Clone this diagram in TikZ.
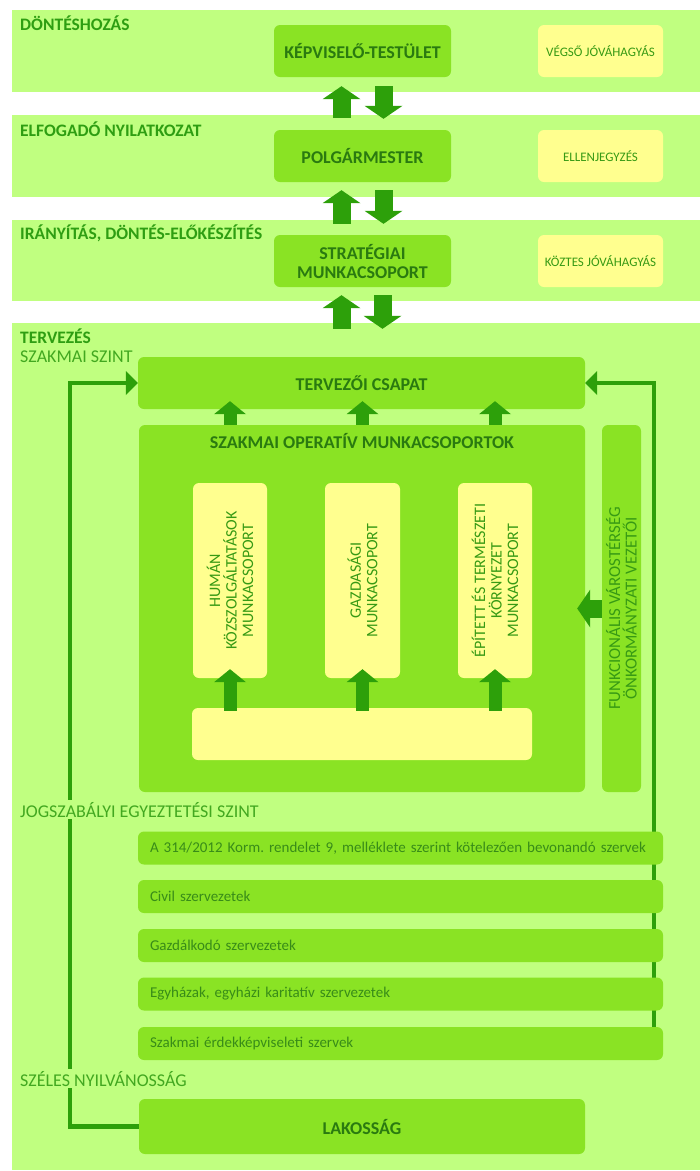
\documentclass[tikz,border=0pt]{standalone}
\usepackage{fontspec}
\setmainfont{Carlito}
\usetikzlibrary{arrows.meta}
\definecolor{bandgreen}{HTML}{C0FF80}
\definecolor{boxgreen}{HTML}{8AE324}
\definecolor{paleyellow}{HTML}{FFFF8F}
\definecolor{arrowgreen}{HTML}{2DA00A}
\definecolor{boxtext}{HTML}{2A7A10}
\definecolor{labelgreen}{HTML}{2E9E12}
\definecolor{sublabel}{HTML}{42A820}
\definecolor{ytext}{HTML}{379A14}
\definecolor{ltext}{HTML}{388C18}
\pgfdeclarelayer{bg}
\pgfsetlayers{bg,main}
\tikzstyle{gbox}=[fill=boxgreen, rounded corners=6pt, text=boxtext, font=\bfseries\fontsize{18}{19}\selectfont, align=center, inner sep=0pt]
\tikzstyle{ybox}=[fill=paleyellow, rounded corners=6pt, text=ytext, font=\fontsize{13}{15}\selectfont, inner sep=0pt]
\tikzstyle{lbox}=[fill=boxgreen, rounded corners=6pt, text=ltext, font=\fontsize{15}{17}\selectfont, minimum height=33pt, text width=501pt, inner xsep=12pt, inner ysep=0pt, align=left]
\tikzstyle{title}=[text=boxtext, font=\bfseries\fontsize{18}{19}\selectfont]
\tikzstyle{vtext}=[rotate=90, align=center, text=ytext, font=\fontsize{16}{16.5}\selectfont]
\tikzstyle{lbl}=[anchor=base west, fill=bandgreen, inner sep=2pt, text=labelgreen, font=\bfseries\fontsize{17.5}{20}\selectfont]
\tikzstyle{sublbl}=[lbl, text=sublabel, font=\fontsize{18}{20}\selectfont]
\tikzstyle{barrow}=[draw=arrowgreen, line width=18pt, -{Triangle[width=38pt,length=13pt,line width=0pt]}]
\tikzstyle{sarrow}=[draw=arrowgreen, line width=13pt, -{Triangle[width=32pt,length=13pt,line width=0pt]}]
\tikzstyle{link}=[draw=arrowgreen, line width=4.5pt, -{Triangle[width=24pt,length=12pt,line width=0pt]}]

\begin{document}
\frenchspacing
\begin{tikzpicture}[x=1pt, y=-1pt]
    \useasboundingbox (0,0) rectangle (700,1171);
    \begin{pgfonlayer}{bg}
        \fill[bandgreen] (12,10) rectangle (700,92);
        \fill[bandgreen] (12,115) rectangle (700,197);
        \fill[bandgreen] (12,220) rectangle (700,301);
        \fill[bandgreen] (12,323) rectangle (700,1170);
    \end{pgfonlayer}

    % top levels
    \node[gbox, minimum width=177pt, minimum height=52pt] (kt) at (362.5,51) {KÉPVISELŐ-TESTÜLET};
    \node[ybox, minimum width=125pt, minimum height=52pt] (vj) at (600.5,51) {VÉGSŐ JÓVÁHAGYÁS};
    \node[gbox, minimum width=177pt, minimum height=52pt] (pm) at (362.5,156) {POLGÁRMESTER};
    \node[ybox, minimum width=125pt, minimum height=52pt] (ej) at (600.5,156) {ELLENJEGYZÉS};
    \node[gbox, minimum width=177pt, minimum height=52pt] (st) at (362.5,261) {STRATÉGIAI\\MUNKACSOPORT};
    \node[ybox, minimum width=125pt, minimum height=52pt] (kj) at (600.5,261) {KÖZTES JÓVÁHAGYÁS};

    % tervezes
    \node[gbox, minimum width=447pt, minimum height=52pt] (tc) at (361.5,383) {TERVEZŐI CSAPAT};
    \node[gbox, minimum width=446pt, minimum height=367pt] (sz) at (362,608.5) {};
    \node[title] (szt) at (362,441) {SZAKMAI OPERATÍV MUNKACSOPORTOK};
    \node[gbox, minimum width=39pt, minimum height=367pt] (fv) at (621.5,608.5) {};
    \node[vtext, font=\fontsize{16.8}{16.5}\selectfont] (fvt) at (fv) {FUNKCIONÁLIS VÁROSTÉRSÉG\\ÖNKORMÁNYZATI VEZETŐI};
    \node[ybox, minimum width=74pt, minimum height=195pt] (hu) at (230,580.5) {};
    \node[vtext] (hut) at (hu) {HUMÁN\\KÖZSZOLGÁLTATÁSOK\\MUNKACSOPORT};
    \node[ybox, minimum width=75pt, minimum height=195pt] (ga) at (362.5,580.5) {};
    \node[vtext] (gat) at (ga) {GAZDASÁGI\\MUNKACSOPORT};
    \node[ybox, minimum width=74pt, minimum height=195pt] (ep) at (495,580.5) {};
    \node[vtext] (ept) at (ep) {ÉPÍTETT ÉS TERMÉSZETI\\KÖRNYEZET\\MUNKACSOPORT};
    \node[ybox, minimum width=340pt, minimum height=52pt] (yb) at (362,734) {};

    % egyeztetes
    \node[lbox] (l1) at (400.5,848) {A 314/2012 Korm. rendelet 9, melléklete szerint kötelezően bevonandó szervek};
    \node[lbox] (l2) at (400.5,896.5) {Civil szervezetek};
    \node[lbox] (l3) at (400.5,945.5) {Gazdálkodó szervezetek};
    \node[lbox] (l4) at (400.5,994) {Egyházak, egyházi karitatív szervezetek};
    \node[lbox] (l5) at (400.5,1043.5) {Szakmai érdekképviseleti szervek};
    \node[gbox, minimum width=446pt, minimum height=55pt] (lak) at (362,1126.5) {LAKOSSÁG};

    \begin{pgfonlayer}{bg}
        \draw[link] (lak.west) -- ++(-69,0) |- (tc.west);
        \draw[link] ([xshift=-9pt]l5.east) |- (tc.east);
    \end{pgfonlayer}

    \node[lbl] (dh) at (18,30) {DÖNTÉSHOZÁS};
    \node[lbl] (en) at (18,136) {ELFOGADÓ NYILATKOZAT};
    \node[lbl] (ir) at (18,239) {IRÁNYÍTÁS, DÖNTÉS-ELŐKÉSZÍTÉS};
    \node[lbl] (tv) at (18,343) {TERVEZÉS};
    \node[sublbl] (ssz) at (18,362) {SZAKMAI SZINT};
    \node[sublbl] (jsz) at (18,817) {JOGSZABÁLYI EGYEZTETÉSI SZINT};
    \node[sublbl] (szny) at (18,1086) {SZÉLES NYILVÁNOSSÁG};

    % arrows
    \draw[barrow, shorten <=12pt, shorten >=9pt] ([xshift=-21pt]pm.north) -- ([xshift=-21pt]kt.south);
    \draw[barrow, shorten <=9pt, shorten >=11pt] ([xshift=21pt]kt.south) -- ([xshift=21pt]pm.north);
    \draw[barrow, shorten <=11pt, shorten >=8pt] ([xshift=-21pt]st.north) -- ([xshift=-21pt]pm.south);
    \draw[barrow, shorten <=8pt, shorten >=11pt] ([xshift=21pt]pm.south) -- ([xshift=21pt]st.north);
    \draw[barrow, shorten <=28pt, shorten >=8pt] ([xshift=-20pt]tc.north) -- ([xshift=-21pt]st.south);
    \draw[barrow, shorten <=8pt, shorten >=28pt] ([xshift=20pt]st.south) -- ([xshift=21pt]tc.north);
    \draw[sarrow, shorten >=-8pt] (hu.center |- sz.north) -- (hu.center |- tc.south);
    \draw[sarrow, shorten >=-8pt] (ga.center |- sz.north) -- (ga.center |- tc.south);
    \draw[sarrow, shorten >=-8pt] (ep.center |- sz.north) -- (ep.center |- tc.south);
    \draw[sarrow, shorten <=-3pt, shorten >=-9pt] (hu.south |- yb.north) -- (hu.south);
    \draw[sarrow, shorten <=-3pt, shorten >=-9pt] (ga.south |- yb.north) -- (ga.south);
    \draw[sarrow, shorten <=-3pt, shorten >=-9pt] (ep.south |- yb.north) -- (ep.south);
    \draw[barrow, shorten >=-8pt] (fv.west) -- (sz.east);
\end{tikzpicture}
\end{document}
